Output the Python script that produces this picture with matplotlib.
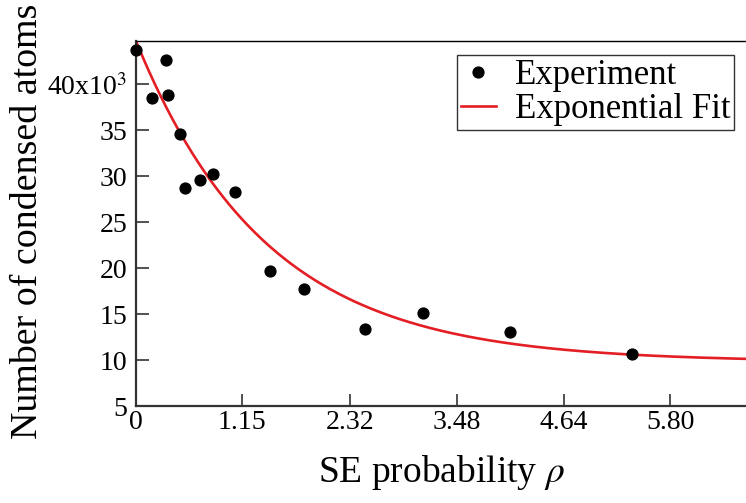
import numpy as np
import matplotlib.pyplot as plt

plt.rcParams['font.family'] = ['Liberation Serif', 'DejaVu Serif']
plt.rcParams['mathtext.fontset'] = 'stix'

# measured condensate atom numbers (thousands) vs SE probability
rho = [0.0, 0.17, 0.35, 0.33, 0.48, 0.53, 0.70, 0.84, 1.07,
       1.45, 1.82, 2.48, 3.12, 4.06, 5.38]
atoms = [43.7, 38.5, 38.8, 42.6, 34.6, 28.7, 29.6, 30.2, 28.3,
         19.7, 17.7, 13.4, 15.1, 13.0, 10.7]

# exponential fit parameters: offset + amp * exp(-rho / tau)
fit_offset = 9.8
fit_amp = 34.9
fit_tau = 1.42

xticks = [0, 1.15, 2.32, 3.48, 4.64, 5.80]
xticklabels = ['0', '1.15', '2.32', '3.48', '4.64', '5.80']
yticks = [5, 10, 15, 20, 25, 30, 35, 40]
yticklabels = ['5', '10', '15', '20', '25', '30', '35', r'40x10$^{3}$']

fig = plt.figure(figsize=(7.46, 5.03), dpi=100)
ax = fig.add_axes([0.1823, 0.1928, 0.8177, 0.7257])

xs = np.linspace(0, 6.7, 400)
ax.plot(xs, fit_offset + fit_amp * np.exp(-xs / fit_tau),
        color='#e31e24', lw=1.9, label='Exponential Fit', zorder=2)
ax.plot(rho, atoms, 'o', color='black', ms=7.8, label='Experiment', zorder=3,
        clip_on=False)

ax.set_xlim(0, 6.62)
ax.set_ylim(5, 44.7)
ax.set_xticks(xticks)
ax.set_xticklabels(xticklabels)
ax.set_yticks(yticks)
ax.set_yticklabels(yticklabels)

ax.tick_params(direction='in', length=9, width=1.2, labelsize=20,
               colors='#333333', labelcolor='black')
ax.tick_params(axis='x', pad=3)
ax.tick_params(axis='y', pad=6)
ax.spines['right'].set_visible(False)
for s in ['left', 'bottom']:
    ax.spines[s].set_color('#333333')
    ax.spines[s].set_linewidth(1.6)
ax.spines['top'].set_linewidth(1.0)

ax.set_xlabel(r'SE probability $\rho$', fontsize=27, labelpad=13)
ax.set_ylabel('Number of condensed atoms', fontsize=27.3)
ax.yaxis.set_label_coords(-0.149, 0.506)

handles, labels = ax.get_legend_handles_labels()
leg = ax.legend(handles[::-1], labels[::-1], loc='upper right',
                bbox_to_anchor=(0.981, 0.962), fontsize=25, frameon=True,
                fancybox=False, edgecolor='black', handlelength=1.0,
                borderpad=0.12, labelspacing=0.02, handletextpad=0.55,
                borderaxespad=0.0)
leg.get_frame().set_linewidth(1.0)

fig.savefig('out.png', dpi=100)
